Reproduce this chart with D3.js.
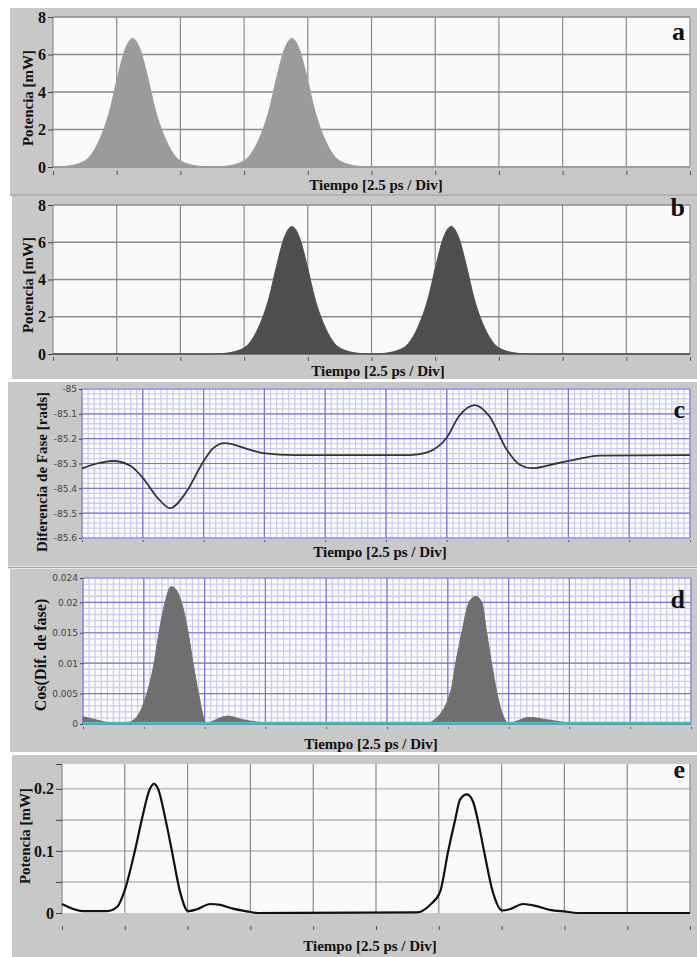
<!DOCTYPE html>
<html>
<head>
<meta charset="utf-8">
<script src="https://cdn.jsdelivr.net/npm/d3@7"></script>
<style>
  body { margin: 0; background: #ffffff; }
  svg { display: block; }
</style>
</head>
<body>
<svg id="chart" width="697" height="957"></svg>
<script>
// ---- Data -------------------------------------------------------------
// Time is measured in divisions of 2.5 ps (10 divisions per trace).
const divisions = [0, 1, 2, 3, 4, 5, 6, 7, 8, 9, 10];

// (a) input pulse train, power in mW
const timeA = [0, 0.15, 0.42, 0.575, 0.73, 0.89, 1.015, 1.125, 1.25, 1.375, 1.485, 1.61, 1.77, 1.925, 2.08, 2.35, 2.5,
               2.65, 2.92, 3.075, 3.23, 3.39, 3.515, 3.625, 3.75, 3.875, 3.985, 4.11, 4.27, 4.425, 4.58, 4.85, 5.0, 10];
const powerA = [0, 0.02, 0.2, 0.55, 1.45, 3.0, 4.8, 6.2, 6.85, 6.2, 4.8, 3.0, 1.45, 0.55, 0.2, 0.02, 0,
                0.02, 0.2, 0.55, 1.45, 3.0, 4.8, 6.2, 6.85, 6.2, 4.8, 3.0, 1.45, 0.55, 0.2, 0.02, 0, 0];

// (b) delayed pulse train, power in mW
const timeB = [0, 2.5, 2.65, 2.92, 3.075, 3.23, 3.39, 3.515, 3.625, 3.75, 3.875, 3.985, 4.11, 4.27, 4.425, 4.58, 4.85, 5.0,
               5.15, 5.42, 5.575, 5.73, 5.89, 6.015, 6.125, 6.25, 6.375, 6.485, 6.61, 6.77, 6.925, 7.08, 7.35, 7.5, 10];
const powerB = [0, 0, 0.02, 0.2, 0.55, 1.45, 3.0, 4.8, 6.2, 6.85, 6.2, 4.8, 3.0, 1.45, 0.55, 0.2, 0.02, 0,
                0.02, 0.2, 0.55, 1.45, 3.0, 4.8, 6.2, 6.85, 6.2, 4.8, 3.0, 1.45, 0.55, 0.2, 0.02, 0, 0];

// (c) phase difference, rad
const timeC = [0, 0.25, 0.51, 0.8, 0.99, 1.25, 1.45, 1.7, 1.99, 2.15, 2.35, 2.7, 2.98, 3.5, 5.4, 5.69, 6.0, 6.2, 6.46,
               6.7, 6.99, 7.2, 7.4, 7.8, 8.19, 8.5, 10];
const phaseC = [-85.32, -85.30, -85.29, -85.31, -85.355, -85.44, -85.48, -85.42, -85.295, -85.24, -85.218, -85.24, -85.258,
                -85.266, -85.266, -85.254, -85.195, -85.11, -85.065, -85.11, -85.246, -85.305, -85.319, -85.30, -85.28,
                -85.268, -85.266];

// (d) cosine of the phase difference
const timeD = [0, 0.25, 0.45, 0.72, 0.88, 1.05, 1.17, 1.25, 1.35, 1.45, 1.52, 1.62, 1.73, 1.81, 1.9, 1.99, 2.04, 2.14,
               2.38, 2.63, 2.96, 3.24, 5.66, 5.74, 6.04, 6.13, 6.23, 6.35, 6.46, 6.56, 6.64, 6.72, 6.81, 6.96, 7.02,
               7.14, 7.35, 7.57, 7.89, 8.17, 10];
const cosD = [0.0012, 0.0006, 0.0002, 0.0002, 0.0011, 0.005, 0.010, 0.015, 0.020, 0.0226, 0.0222, 0.020, 0.015, 0.010,
              0.005, 0.0008, 0, 0.0005, 0.0013, 0.0007, 0.0002, 0, 0, 0.0004, 0.005, 0.010, 0.015, 0.020, 0.021,
              0.020, 0.015, 0.010, 0.005, 0.0004, 0, 0.0005, 0.0011, 0.0008, 0.0003, 0, 0];

// (e) output power, mW
const timeE = [0, 0.33, 0.72, 0.88, 0.99, 1.16, 1.27, 1.40, 1.465, 1.53, 1.65, 1.75, 1.88, 2.01, 2.15, 2.36, 2.52, 2.72,
               2.99, 3.11, 5.65, 5.86, 6.02, 6.15, 6.26, 6.34, 6.45, 6.55, 6.62, 6.72, 6.86, 7.01, 7.13, 7.34, 7.56,
               7.77, 8.04, 8.2, 10];
const powerE = [0.0145, 0.003, 0.003, 0.01, 0.034, 0.10, 0.15, 0.20, 0.208, 0.20, 0.15, 0.10, 0.034, 0.003, 0.006,
                0.0145, 0.013, 0.007, 0.002, 0, 0.001, 0.013, 0.034, 0.10, 0.15, 0.183, 0.191, 0.178, 0.15, 0.10,
                0.034, 0.004, 0.006, 0.0145, 0.011, 0.005, 0.002, 0, 0];

// Tick values and their labels
const yTicksAB = [0, 2, 4, 6, 8];
const yTicksC = [-85.6, -85.5, -85.4, -85.3, -85.2, -85.1, -85];
const yTickLabelsC = ["-85.6", "-85.5", "-85.4", "-85.3", "-85.2", "-85.1", "-85"];
const yTicksD = [0, 0.005, 0.01, 0.015, 0.02, 0.024];
const yTickLabelsD = ["0", "0.005", "0.01", "0.015", "0.02", "0.024"];
const yTicksE = [0, 0.05, 0.1, 0.15, 0.2, 0.24];
const yTickLabelsE = ["0", "", "0.1", "", "0.2", ""];

const xTitle = "Tiempo [2.5 ps / Div]";

// ---- Drawing ----------------------------------------------------------
const svg = d3.select("#chart");
const SERIF = "'Liberation Serif', 'DejaVu Serif', serif";
const SANS = "'DejaVu Sans', 'Liberation Sans', sans-serif";

function zip(ts, vs) { return ts.map((t, i) => ({ t, v: vs[i] })); }

function serifText(sel, size) {
  return sel.style("font-family", SERIF).style("font-weight", "bold")
    .style("font-size", size + "px").attr("fill", "#111");
}

function drawPanel(p) {
  const g = svg.append("g");

  // frame
  g.append("rect").attr("x", p.frame[0]).attr("y", p.frame[1])
    .attr("width", p.frame[2] - p.frame[0]).attr("height", p.frame[3] - p.frame[1])
    .attr("fill", "#c8c8c8");

  const x = d3.scaleLinear().domain([0, 10]).range([p.left, p.right]);
  const y = d3.scaleLinear().domain(p.yDomain).range([p.bottom, p.top]);

  // plot area
  g.append("rect").attr("x", p.left).attr("y", p.top)
    .attr("width", p.right - p.left).attr("height", p.bottom - p.top)
    .attr("fill", p.plotFill);

  // grids
  if (p.fine) {
    const minorX = d3.range(0, 100.5, 1).map(d => d / 10);
    const minorY = d3.range(0, Math.round((p.yDomain[1] - p.yDomain[0]) / p.minorStep) + 0.5, 1)
      .map(k => p.yDomain[0] + k * p.minorStep);
    g.append("g").selectAll("line").data(minorX).join("line")
      .attr("x1", d => x(d)).attr("x2", d => x(d)).attr("y1", p.top).attr("y2", p.bottom)
      .attr("stroke", "#cbcbf3").attr("stroke-width", 1.3);
    g.append("g").selectAll("line").data(minorY).join("line")
      .attr("x1", p.left).attr("x2", p.right).attr("y1", d => y(d)).attr("y2", d => y(d))
      .attr("stroke", "#cbcbf3").attr("stroke-width", 1.3);
    g.append("g").selectAll("line").data(divisions).join("line")
      .attr("x1", d => x(d)).attr("x2", d => x(d)).attr("y1", p.top).attr("y2", p.bottom)
      .attr("stroke", "#7676dc").attr("stroke-width", 1.2);
    g.append("g").selectAll("line").data(p.yTicks).join("line")
      .attr("x1", p.left).attr("x2", p.right).attr("y1", d => y(d)).attr("y2", d => y(d))
      .attr("stroke", "#7676dc").attr("stroke-width", 1.2);
  } else {
    g.append("g").selectAll("line").data(p.yGrid).join("line")
      .attr("x1", p.left).attr("x2", p.right).attr("y1", d => y(d)).attr("y2", d => y(d))
      .attr("stroke", p.hGridColor).attr("stroke-width", p.hGridWidth);
    g.append("g").selectAll("line").data(divisions).join("line")
      .attr("x1", d => x(d)).attr("x2", d => x(d)).attr("y1", p.top).attr("y2", p.bottom)
      .attr("stroke", "#8a8a92").attr("stroke-width", 1.2);
  }

  // data mark
  const pts = zip(p.time, p.values);
  if (p.kind === "area") {
    const area = d3.area().x(d => x(d.t)).y0(y(0)).y1(d => y(d.v)).curve(d3.curveMonotoneX);
    g.append("path").datum(pts).attr("d", area).attr("fill", p.color)
      .attr("stroke", p.color).attr("stroke-width", 1);
  }
  if (p.baseline) {
    g.append("line").attr("x1", p.left).attr("x2", p.right)
      .attr("y1", y(0) - 1).attr("y2", y(0) - 1)
      .attr("stroke", p.baseline).attr("stroke-width", 2.6);
  }
  if (p.kind === "line") {
    const line = d3.line().x(d => x(d.t)).y(d => y(d.v)).curve(d3.curveMonotoneX);
    g.append("path").datum(pts).attr("d", line).attr("fill", "none")
      .attr("stroke", p.color).attr("stroke-width", p.lineWidth);
  }

  // y axis
  const yAxis = d3.axisLeft(y).tickValues(p.yTicks).tickSize(p.yTickSize).tickPadding(2)
    .tickFormat((d, i) => p.yLabels[i]);
  const ya = g.append("g").attr("transform", `translate(${p.left},0)`).call(yAxis);
  ya.select(".domain").remove();
  ya.selectAll(".tick line").attr("stroke", "#444");
  const yt = ya.selectAll(".tick text");
  if (p.smallTicks) {
    yt.style("font-family", SANS).style("font-size", "9px").style("font-weight", "normal")
      .attr("fill", "#444");
  } else {
    serifText(yt, 16);
  }

  // x axis: tick marks only
  const xAxis = d3.axisBottom(x).tickValues(divisions).tickSize(p.xTickSize).tickFormat("");
  const xa = g.append("g").attr("transform", `translate(0,${p.xAxisY})`).call(xAxis);
  xa.select(".domain").remove();
  xa.selectAll(".tick line").attr("stroke", "#555").attr("stroke-width", 1);

  // titles
  serifText(g.append("text").attr("x", p.xTitlePos[0]).attr("y", p.xTitlePos[1])
    .attr("text-anchor", "middle"), 15).text(xTitle);
  serifText(g.append("text")
    .attr("transform", `translate(${p.yTitlePos[0]},${p.yTitlePos[1]}) rotate(-90)`)
    .attr("text-anchor", "middle"), p.yTitleSize).text(p.yTitle);
  serifText(g.append("text").attr("x", 685).attr("y", p.letterY)
    .attr("text-anchor", "end"), 26).text(p.letter);
}

const common = {
  plotFill: "#fafafa", hGridColor: "#8a8a92", hGridWidth: 1.3, yTickSize: 5, xTickSize: 4
};

drawPanel(Object.assign({}, common, {
  frame: [10, 8, 697, 194], left: 53, right: 690, top: 17, bottom: 167,
  yDomain: [0, 8], yTicks: yTicksAB, yLabels: yTicksAB.map(String), yGrid: yTicksAB,
  kind: "area", time: timeA, values: powerA, color: "#9b9b9b",
  xAxisY: 171, xTitlePos: [376, 190], yTitle: "Potencia [mW]", yTitlePos: [33, 98], yTitleSize: 15,
  letter: "a", letterY: 40
}));

svg.append("line").attr("x1", 10).attr("x2", 697).attr("y1", 195).attr("y2", 195)
  .attr("stroke", "#9a9a9a").attr("stroke-width", 1.5);

drawPanel(Object.assign({}, common, {
  frame: [12, 196, 697, 379], left: 53, right: 690, top: 205, bottom: 354,
  yDomain: [0, 8], yTicks: yTicksAB, yLabels: yTicksAB.map(String), yGrid: yTicksAB,
  kind: "area", time: timeB, values: powerB, color: "#4e4e4e",
  xAxisY: 357, xTitlePos: [378, 376], yTitle: "Potencia [mW]", yTitlePos: [33, 285], yTitleSize: 15,
  letter: "b", letterY: 216
}));

drawPanel(Object.assign({}, common, {
  frame: [8, 382, 697, 566], left: 82, right: 690, top: 389, bottom: 538,
  yDomain: [-85.6, -85], yTicks: yTicksC, yLabels: yTickLabelsC, fine: true, minorStep: 0.02,
  plotFill: "#ffffff", smallTicks: true, yTickSize: 3,
  kind: "line", time: timeC, values: phaseC, color: "#333333", lineWidth: 1.8,
  xAxisY: 540, xTickSize: 2, xTitlePos: [380, 557], yTitle: "Diferencia de Fase [rads]",
  yTitlePos: [47, 472], yTitleSize: 15, letter: "c", letterY: 418
}));

svg.append("line").attr("x1", 8).attr("x2", 697).attr("y1", 567.5).attr("y2", 567.5)
  .attr("stroke", "#a5a5a5").attr("stroke-width", 1.5);

drawPanel(Object.assign({}, common, {
  frame: [10, 569, 697, 752], left: 83, right: 691, top: 578, bottom: 724,
  yDomain: [0, 0.024], yTicks: yTicksD, yLabels: yTickLabelsD, fine: true, minorStep: 0.001,
  plotFill: "#ffffff", smallTicks: true, yTickSize: 3,
  kind: "area", time: timeD, values: cosD, color: "#6f6f6f", baseline: "#3fbcbc",
  xAxisY: 727, xTickSize: 2, xTitlePos: [371, 749], yTitle: "Cos(Dif. de fase)",
  yTitlePos: [46, 655], yTitleSize: 16, letter: "d", letterY: 608
}));

drawPanel(Object.assign({}, common, {
  frame: [12, 755, 697, 957], left: 62, right: 690, top: 764, bottom: 913,
  yDomain: [0, 0.24], yTicks: yTicksE, yLabels: yTickLabelsE, yGrid: [0.05, 0.1, 0.15, 0.2],
  hGridColor: "#c9c9c9", hGridWidth: 2, yTickSize: 6,
  kind: "line", time: timeE, values: powerE, color: "#111111", lineWidth: 2.2,
  xAxisY: 926, xTickSize: 4, xTitlePos: [370, 951], yTitle: "Potencia [mW]",
  yTitlePos: [30, 836], yTitleSize: 15, letter: "e", letterY: 778
}));
</script>
</body>
</html>
